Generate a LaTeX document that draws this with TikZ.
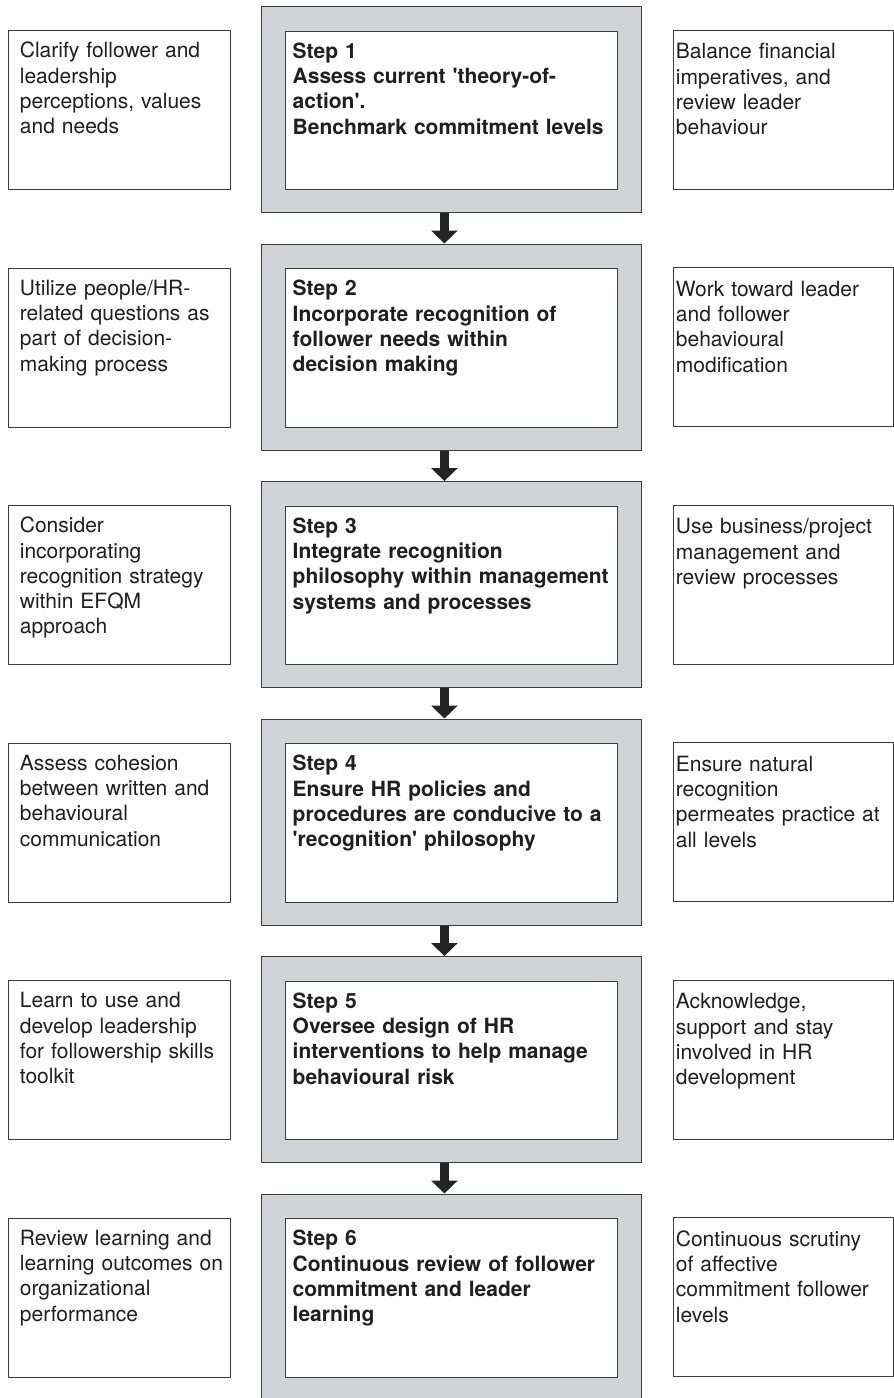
\documentclass[tikz,border=0pt]{standalone}
\usepackage{fontspec}
\setmainfont{TeX Gyre Heros}
\usepackage{tikz}
\usetikzlibrary{arrows.meta}
\definecolor{ddddee}{rgb}{0.82,0.83,0.84}
\definecolor{qqqqqq}{rgb}{0.24,0.24,0.24}
\definecolor{wwwwww}{rgb}{0.14,0.14,0.14}
\definecolor{tttttt}{rgb}{0.12,0.12,0.12}
\newcommand{\q}{\textquotesingle}

\begin{document}
\begin{tikzpicture}[line cap=round,line join=round,x=1pt,y=-1pt,
  sidebox/.style={draw=qqqqqq,line width=1.3pt,fill=white,anchor=north west,inner sep=0pt,minimum width=222pt,minimum height=159pt},
  outerbox/.style={draw=qqqqqq,line width=1.3pt,fill=ddddee,anchor=north west,inner sep=0pt,minimum width=379.5pt,minimum height=206pt},
  innerbox/.style={draw=qqqqqq,line width=1.3pt,fill=white,anchor=north west,inner sep=0pt,minimum width=332.5pt,minimum height=158.5pt},
  sidetext/.style={anchor=base west,inner sep=0pt,text width=218pt,align=left,text=tttttt,font=\fontsize{21}{25.3}\selectfont},
  steptext/.style={sidetext,text width=322pt,font=\fontsize{21}{25.3}\selectfont\bfseries},
  steparrow/.style={draw=wwwwww,line width=9.5pt,line cap=butt,-{Triangle[width=26pt,length=13pt]}}]

\useasboundingbox (0,0) rectangle (894,1398);
\clip (0,0) rectangle (894,1398);

% row 1
\node[sidebox] (l1) at (7.5,30) {};
\node[outerbox] (o1) at (261,6) {};
\node[innerbox] (i1) at (284.5,30.5) {};
\node[sidebox,minimum width=220.5pt] (r1) at (672.5,29.5) {};
\node[sidetext] (lt1) at (19.7,57.7) {Clarify follower and\\leadership\\perceptions, values\\and needs};
\node[steptext] (st1) at (292.5,58.3) {Step 1\\Assess current \q theory-of-\\action\q.\\Benchmark commitment levels};
\node[sidetext] (rt1) at (675.7,58.7) {Balance financial\\imperatives, and\\review leader\\behaviour};

% row 2
\node[sidebox] (l2) at (7.5,267.5) {};
\node[outerbox] (o2) at (261,243.5) {};
\node[innerbox] (i2) at (284.5,268) {};
\node[sidebox,minimum width=220.5pt] (r2) at (672.5,267) {};
\node[sidetext] (lt2) at (19.7,295.2) {Utilize people/HR-\\related questions as\\part of decision-\\making process};
\node[steptext] (st2) at (292.5,295.8) {Step 2\\Incorporate recognition of\\follower needs within\\decision making};
\node[sidetext] (rt2) at (675.7,296.2) {Work toward leader\\and follower\\behavioural\\modification};

% row 3
\node[sidebox] (l3) at (7.5,505) {};
\node[outerbox] (o3) at (261,481) {};
\node[innerbox] (i3) at (284.5,505.5) {};
\node[sidebox,minimum width=220.5pt] (r3) at (672.5,504.5) {};
\node[sidetext] (lt3) at (19.7,532.7) {Consider\\incorporating\\recognition strategy\\within EFQM\\approach};
\node[steptext] (st3) at (292.5,533.3) {Step 3\\Integrate recognition\\philosophy within management\\systems and processes};
\node[sidetext] (rt3) at (675.7,533.7) {Use business/project\\management and\\review processes};

% row 4
\node[sidebox] (l4) at (7.5,742.5) {};
\node[outerbox] (o4) at (261,718.5) {};
\node[innerbox] (i4) at (284.5,743) {};
\node[sidebox,minimum width=220.5pt] (r4) at (672.5,742) {};
\node[sidetext] (lt4) at (19.7,770.2) {Assess cohesion\\between written and\\behavioural\\communication};
\node[steptext] (st4) at (292.5,770.8) {Step 4\\Ensure HR policies and\\procedures are conducive to a\\\q recognition\q{} philosophy};
\node[sidetext] (rt4) at (675.7,771.2) {Ensure natural\\recognition\\permeates practice at\\all levels};

% row 5
\node[sidebox] (l5) at (7.5,980) {};
\node[outerbox] (o5) at (261,956) {};
\node[innerbox] (i5) at (284.5,980.5) {};
\node[sidebox,minimum width=220.5pt] (r5) at (672.5,979.5) {};
\node[sidetext] (lt5) at (19.7,1007.7) {Learn to use and\\develop leadership\\for followership skills\\toolkit};
\node[steptext] (st5) at (292.5,1008.3) {Step 5\\Oversee design of HR\\interventions to help manage\\behavioural risk};
\node[sidetext] (rt5) at (675.7,1008.7) {Acknowledge,\\support and stay\\involved in HR\\development};

% row 6
\node[sidebox] (l6) at (7.5,1217.5) {};
\node[outerbox] (o6) at (261,1193.5) {};
\node[innerbox] (i6) at (284.5,1218) {};
\node[sidebox,minimum width=220.5pt] (r6) at (672.5,1217) {};
\node[sidetext] (lt6) at (19.7,1245.2) {Review learning and\\learning outcomes on\\organizational\\performance};
\node[steptext] (st6) at (292.5,1245.8) {Step 6\\Continuous review of follower\\commitment and leader\\learning};
\node[sidetext] (rt6) at (675.7,1246.2) {Continuous scrutiny\\of affective\\commitment follower\\levels};

% arrows
\draw[steparrow] ([xshift=-7pt]o1.south) -- ([xshift=-7pt]o2.north);
\draw[steparrow] ([xshift=-7pt]o2.south) -- ([xshift=-7pt]o3.north);
\draw[steparrow] ([xshift=-7pt]o3.south) -- ([xshift=-7pt]o4.north);
\draw[steparrow] ([xshift=-7pt]o4.south) -- ([xshift=-7pt]o5.north);
\draw[steparrow] ([xshift=-7pt]o5.south) -- ([xshift=-7pt]o6.north);

\end{tikzpicture}
\end{document}
